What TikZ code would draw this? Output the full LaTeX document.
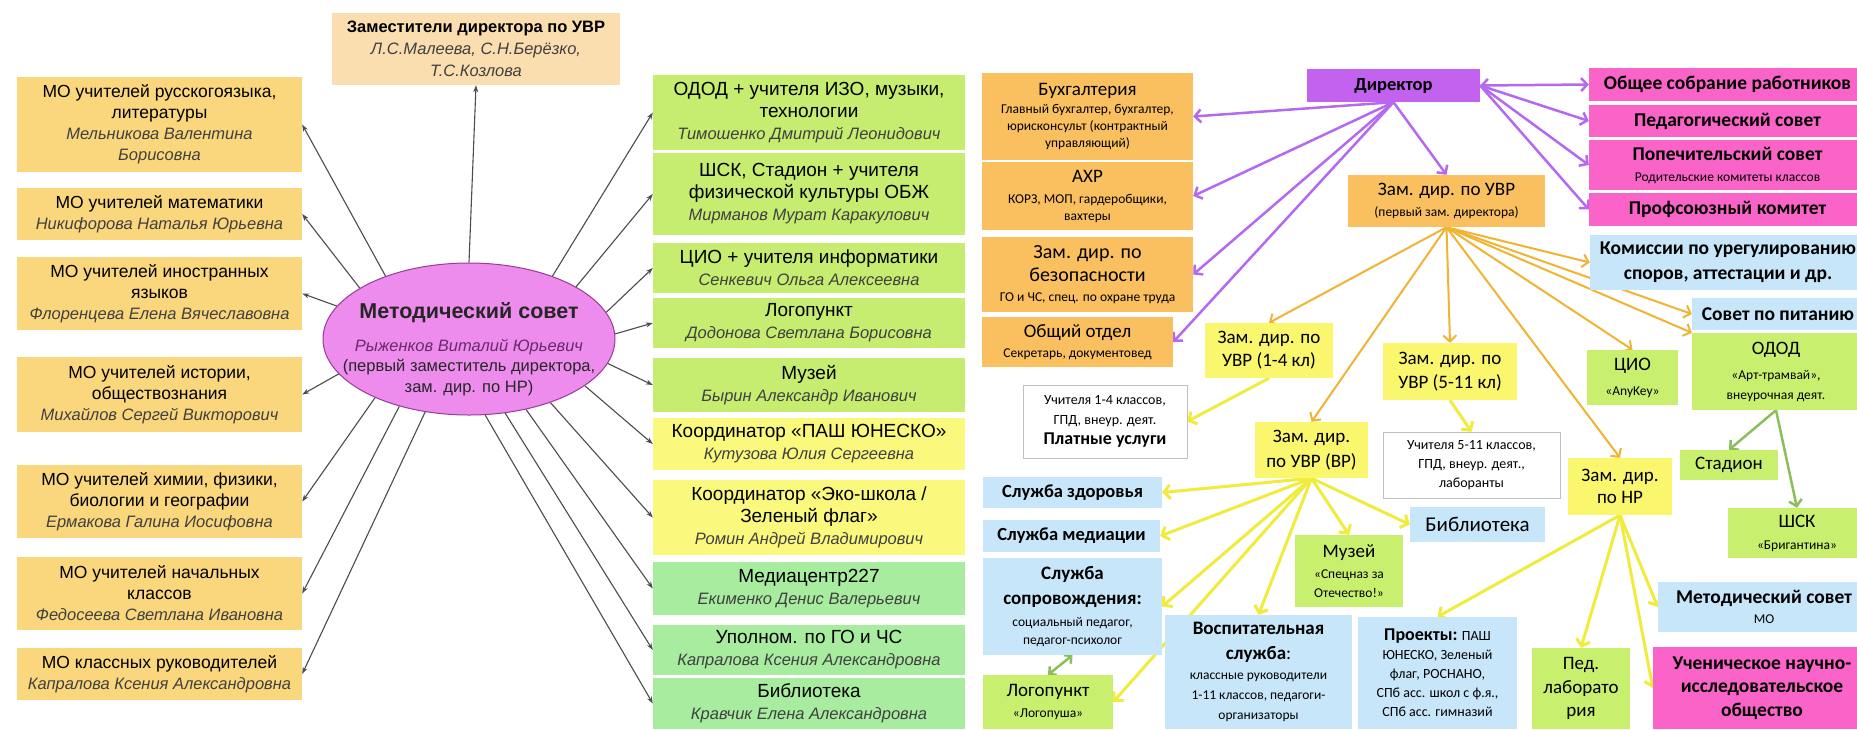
\documentclass[tikz,border=0pt]{standalone}
\usepackage{fontspec}
\setmainfont{Carlito}
\newfontfamily\arialf{Liberation Sans}
\usetikzlibrary{arrows.meta,shapes.geometric}
\definecolor{cLO}{RGB}{250,215,125}
\definecolor{cTop}{RGB}{250,222,176}
\definecolor{cEll}{RGB}{238,140,238}
\definecolor{cEllB}{RGB}{150,60,150}
\definecolor{cLime}{RGB}{198,236,112}
\definecolor{cYel}{RGB}{250,248,125}
\definecolor{cMint}{RGB}{168,236,160}
\definecolor{cRO}{RGB}{250,192,96}
\definecolor{cDir}{RGB}{196,98,240}
\definecolor{cPink}{RGB}{250,100,200}
\definecolor{cBlue}{RGB}{200,230,250}
\definecolor{cRY}{RGB}{250,246,110}
\definecolor{cRG}{RGB}{200,240,110}
\definecolor{lPur}{RGB}{180,105,240}
\definecolor{lOr}{RGB}{240,180,50}
\definecolor{lYe}{RGB}{240,235,60}
\definecolor{lGr}{RGB}{140,190,90}
\newcommand{\fs}[2]{\fontsize{#1}{#2}\selectfont}
\newcommand{\nm}{\fontsize{16.5}{19}\selectfont\itshape\color{black!75}}
\newcommand{\sm}{\fontsize{13.5}{17}\selectfont}
\newcommand{\obox}[7]{\node[#2, minimum width={(#5)-(#3)}, minimum height={(#6)-(#4)}] (#1) at ({((#3)+(#5))/2},{((#4)+(#6))/2}) {#7};}
\pgfdeclarelayer{back}
\pgfdeclarelayer{bg}
\pgfsetlayers{back,bg,main}
\begin{document}
\begin{tikzpicture}[x=1pt,y=-1pt,
  box/.style={inner sep=2pt, align=center, anchor=center, text=black},
  lbox/.style={box, fill=cLO, font=\arialf\fontsize{17.5}{21}\selectfont},
  gbox/.style={box, font=\arialf\fontsize{19}{22}\selectfont},
  rbox/.style={box, font=\fontsize{19}{23}\selectfont},
  larr/.style={draw=black!70, line width=1.1pt, -{Stealth[length=7pt,width=5pt]}},
  parr/.style={draw=lPur, line width=2.5pt, -{Straight Barb[length=6pt,width=13pt]}},
  oarr/.style={draw=lOr, line width=2pt, -{Straight Barb[length=6pt,width=13pt]}},
  yarr/.style={draw=lYe, line width=3pt, -{Straight Barb[length=6pt,width=14pt]}},
  garr/.style={draw=lGr, line width=2.5pt, -{Straight Barb[length=6pt,width=13pt]}}]
\useasboundingbox (0,0) rectangle (1857,729);
\clip (0,0) rectangle (1857,729);
\begin{pgfonlayer}{back}
\fill[white] (0,0) rectangle (1857,729);
\end{pgfonlayer}

% ---------- left diagram ----------
\obox{l1}{lbox}{17}{77}{302}{172}{МО учителей русскогоязыка,\\ литературы\\ \nm Мельникова Валентина\\ \nm Борисовна}
\obox{l2}{lbox}{17}{188}{302}{240}{МО учителей математики\\ \nm Никифорова Наталья Юрьевна}
\obox{l3}{lbox}{17}{257}{302}{330}{МО учителей иностранных\\ языков\\ \nm Флоренцева Елена Вячеславовна}
\obox{l4}{lbox}{17}{357}{302}{432}{МО учителей истории,\\ обществознания\\ \nm Михайлов Сергей Викторович}
\obox{l5}{lbox}{17}{465}{302}{538}{МО учителей химии, физики,\\ биологии и географии\\ \nm Ермакова Галина Иосифовна}
\obox{l6}{lbox}{17}{557}{302}{630}{МО учителей начальных\\ классов\\ \nm Федосеева Светлана Ивановна}
\obox{l7}{lbox}{17}{648}{302}{700}{МО классных руководителей\\ \nm Капралова Ксения Александровна}

\obox{zam}{gbox,fill=cTop}{332}{13}{620}{85}{\fontsize{16.5}{20}\selectfont\bfseries Заместители директора по УВР\\ \nm Л.С.Малеева, С.Н.Берёзко,\\ \nm Т.С.Козлова}

\node[ellipse, draw=cEllB, line width=1pt, fill=cEll, minimum width=292pt, minimum height=152pt, inner sep=0pt] (ms) at (469,339) {};
\node[align=center, inner sep=0pt, font=\arialf\fontsize{16.5}{20.5}\selectfont, text=black!85] (mst) at ([yshift=-10pt]ms.center)
 {{\fontsize{21.5}{24}\selectfont\bfseries Методический совет}\\[12pt] {\nm\color{cEllB!70!black} Рыженков Виталий Юрьевич}\\ (первый заместитель директора,\\ зам. дир. по НР)};

\obox{r1}{gbox,fill=cLime}{653}{75}{965}{150}{ОДОД + учителя ИЗО, музыки,\\ технологии\\ \nm Тимошенко Дмитрий Леонидович}
\obox{r2}{gbox,fill=cLime}{653}{153}{965}{235}{ШСК, Стадион + учителя\\ физической культуры ОБЖ\\ \nm Мирманов Мурат Каракулович}
\obox{r3}{gbox,fill=cLime}{653}{243}{965}{293}{ЦИО + учителя информатики\\ \nm Сенкевич Ольга Алексеевна}
\obox{r4}{gbox,fill=cLime}{653}{298}{965}{348}{Логопункт\\ \nm Додонова Светлана Борисовна}
\obox{r5}{gbox,fill=cLime}{653}{358}{965}{412}{Музей\\ \nm Бырин Александр Иванович}
\obox{r6}{gbox,fill=cYel}{653}{418}{965}{470}{Координатор «ПАШ ЮНЕСКО»\\ \nm Кутузова Юлия Сергеевна}
\obox{r7}{gbox,fill=cYel}{653}{480}{965}{555}{Координатор «Эко-школа /\\ Зеленый флаг»\\ \nm Ромин Андрей Владимирович}
\obox{r8}{gbox,fill=cMint}{653}{562}{965}{615}{Медиацентр227\\ \nm Екименко Денис Валерьевич}
\obox{r9}{gbox,fill=cMint}{653}{625}{965}{675}{Уполном. по ГО и ЧС\\ \nm Капралова Ксения Александровна}
\obox{r10}{gbox,fill=cMint}{653}{678}{965}{729}{Библиотека\\ \nm Кравчик Елена Александровна}

\begin{pgfonlayer}{bg}
\draw[larr] (ms.north) -- (zam.south);
\draw[larr] (ms.143) -- (l1.east);
\draw[larr] (ms.155) -- (l2.east);
\draw[larr] (ms.166) -- (l3.east);
\draw[larr] (ms.195) -- (l4.east);
\draw[larr] (ms.212) -- (l5.east);
\draw[larr] (ms.224) -- (l6.east);
\draw[larr] (ms.239) -- (l7.east);
\draw[larr] (ms.37) -- (r1.west);
\draw[larr] (ms.26) -- (r2.west);
\draw[larr] (ms.11) -- (r3.west);
\draw[larr] (ms.2) -- (r4.west);
\draw[larr] (ms.350) -- (r5.west);
\draw[larr] (ms.338) -- (r6.west);
\draw[larr] (ms.322) -- (r7.west);
\draw[larr] (ms.309) -- (r8.west);
\draw[larr] (ms.296) -- (r9.west);
\draw[larr] (ms.282) -- (r10.west);
\end{pgfonlayer}

% ---------- right diagram ----------
\obox{buh}{rbox,fill=cRO,font=\fs{19}{17}}{982}{73}{1193}{160}{Бухгалтерия\\[1pt] \sm Главный бухгалтер, бухгалтер,\\ \sm юрисконсульт (контрактный\\ \sm управляющий)}
\obox{ahr}{rbox,fill=cRO,font=\fs{19}{17}}{982}{162}{1193}{230}{АХР\\[4pt] \sm КОРЗ, МОП, гардеробщики,\\ \sm вахтеры}
\obox{bez}{rbox,fill=cRO,font=\fs{20}{23}}{982}{237}{1193}{312}{Зам. дир. по\\ безопасности\\[-3pt] \sm ГО и ЧС, спец. по охране труда}
\obox{obo}{rbox,fill=cRO,font=\fs{19}{20}}{982}{317}{1173}{367}{Общий отдел\\ \sm Секретарь, документовед}
\obox{u14}{rbox,fill=white,draw=black!25,font=\fs{14}{20}}{1023}{385}{1187}{458}{Учителя 1-4 классов,\\ ГПД, внеур. деят.\\ \fs{18}{20}\bfseries Платные услуги}
\obox{z14}{rbox,fill=cRY}{1205}{323}{1333}{378}{Зам. дир. по\\ УВР (1-4 кл)}
\obox{dir}{rbox,fill=cDir,font=\fs{18.5}{22}\bfseries}{1307}{69}{1480}{102}{Директор}
\obox{zuvr}{rbox,fill=cRO,font=\fs{19}{21}}{1348}{175}{1545}{227}{Зам. дир. по УВР\\ \sm (первый зам. директора)}
\obox{obsh}{rbox,fill=cPink,font=\fs{19.5}{23}\bfseries}{1589}{68}{1866}{101}{Общее собрание работников}
\obox{ped}{rbox,fill=cPink,font=\fs{19.5}{23}\bfseries}{1589}{105}{1866}{137}{Педагогический совет}
\obox{pop}{rbox,fill=cPink,font=\fs{19.5}{21}\bfseries}{1589}{140}{1866}{190}{Попечительский совет\\ \sm\mdseries Родительские комитеты классов}
\obox{prof}{rbox,fill=cPink,font=\fs{19.5}{23}\bfseries}{1589}{193}{1866}{226}{Профсоюзный комитет}
\obox{kom}{rbox,fill=cBlue,font=\fs{19.5}{25}\bfseries}{1590}{235}{1866}{290}{Комиссии по урегулированию\\ споров, аттестации и др.}
\obox{pit}{rbox,fill=cBlue,font=\fs{19.5}{23}\bfseries}{1692}{298}{1864}{330}{Совет по питанию}
\obox{odod}{rbox,fill=cRG,font=\fs{19}{20}}{1692}{333}{1860}{410}{ОДОД\\[5pt] \sm «Арт-трамвай»,\\ \sm внеурочная деят.}
\obox{cio}{rbox,fill=cRG,font=\fs{19}{25}}{1587}{350}{1678}{405}{ЦИО\\ \sm «AnyKey»}
\obox{z511}{rbox,fill=cRY,font=\fs{19}{24}}{1383}{343}{1517}{400}{Зам. дир. по\\ УВР (5-11 кл)}
\obox{stad}{rbox,fill=cRG}{1680}{450}{1778}{480}{Стадион}
\obox{shsk}{rbox,fill=cRG,font=\fs{19}{22}}{1728}{508}{1866}{558}{ШСК\\ \sm «Бригантина»}
\obox{znr}{rbox,fill=cRY,font=\fs{19}{22}}{1568}{458}{1672}{515}{Зам. дир.\\ по НР}
\obox{u511}{rbox,fill=white,draw=black!25,font=\fs{14}{19}}{1383}{432}{1560}{498}{Учителя 5-11 классов,\\ ГПД, внеур. деят.,\\ лаборанты}
\obox{bib}{rbox,fill=cBlue,font=\fs{21}{25}}{1410}{507}{1545}{542}{Библиотека}
\obox{msov}{rbox,fill=cBlue,font=\fs{19.5}{20}}{1658}{582}{1870}{632}{\bfseries Методический совет\\ \sm МО}
\obox{uch}{rbox,fill=cPink,font=\fs{19.5}{23.5}\bfseries}{1653}{647}{1871}{729}{Ученическое научно-\\ исследовательское\\ общество}
\obox{pedlab}{rbox,fill=cRG,font=\fs{19}{23.5}}{1532}{648}{1630}{729}{Пед.\\ лаборато\\ рия}
\obox{zvr}{rbox,fill=cRY,font=\fs{19}{25}}{1255}{422}{1368}{478}{Зам. дир.\\ по УВР (ВР)}
\obox{zdor}{rbox,fill=cBlue,font=\fs{18.5}{22}\bfseries}{983}{477}{1162}{508}{Служба здоровья}
\obox{med}{rbox,fill=cBlue,font=\fs{18.5}{22}\bfseries}{983}{520}{1160}{552}{Служба медиации}
\obox{sopr}{rbox,fill=cBlue,font=\fs{19}{18}}{983}{558}{1162}{655}{\bfseries Служба\\[7pt] \bfseries сопровождения:\\[4pt] \sm социальный педагог,\\ \sm педагог-психолог}
\obox{logo}{rbox,fill=cRG,font=\fs{19}{21}}{983}{675}{1113}{729}{Логопункт\\ \sm «Логопуша»}
\obox{vosp}{rbox,fill=cBlue,font=\fs{19}{20}}{1165}{615}{1352}{729}{\bfseries Воспитательная\\[5pt] \textbf{служба}:\\ \sm классные руководители\\ \sm 1-11 классов, педагоги-\\ \sm организаторы}
\obox{muz}{rbox,fill=cRG,font=\fs{19}{19}}{1295}{535}{1403}{607}{Музей\\[2pt] \sm «Спецназ за\\ \sm Отечество!»}
\obox{proj}{rbox,fill=cBlue,font=\fs{14}{19}}{1358}{617}{1517}{729}{\textbf{\fs{18}{19}Проекты:} ПАШ\\ ЮНЕСКО, Зеленый\\ флаг, РОСНАНО,\\ СПб асс. школ с ф.я.,\\ СПб асс. гимназий}

\begin{pgfonlayer}{bg}
\draw[parr] (dir.south) -- (buh.east);
\draw[parr] (dir.south) -- (ahr.east);
\draw[parr] (dir.south) -- (bez.east);
\draw[parr] (dir.south) -- (obo.east);
\draw[parr] (dir.south) -- (zuvr.north);
\draw[parr, {Straight Barb[length=6pt,width=13pt]}-{Straight Barb[length=6pt,width=13pt]}] (dir.east) -- (obsh.west);
\draw[parr] (dir.east) -- (ped.west);
\draw[parr] (dir.east) -- (pop.west);
\draw[parr] (dir.east) -- (prof.west);

\draw[oarr] (zuvr.south) -- (z14.north);
\draw[oarr] (zuvr.south) -- (zvr.north);
\draw[oarr] (zuvr.south) -- (z511.north);
\draw[oarr] (zuvr.south) -- (znr.north);
\draw[oarr] (zuvr.south) -- (cio.north);
\draw[oarr] (zuvr.south) -- (odod.north west);
\draw[oarr] (zuvr.south) -- (pit.west);
\draw[oarr] (zuvr.south) -- (kom.west);

\draw[yarr] (z14.south) -- (u14.east);
\draw[yarr] (z511.south) -- (u511.north);
\draw[yarr] (zvr.south) -- (zdor.east);
\draw[yarr] (zvr.south) -- (med.east);
\draw[yarr] (zvr.south) -- (sopr.east);
\draw[yarr] (zvr.south) -- (logo.east);
\draw[yarr] (zvr.south) -- (vosp.north);
\draw[yarr] (zvr.south) -- (muz.north);
\draw[yarr] (zvr.south) -- (bib.west);
\draw[yarr] (znr.south) -- (proj.north);
\draw[yarr] (znr.south) -- (pedlab.north);
\draw[yarr] (znr.south) -- (msov.west);
\draw[yarr] (znr.south) -- (uch.west);

\draw[garr] (odod.south) -- (stad.north);
\draw[garr] (odod.south) -- (shsk.north);
\draw[garr, {Straight Barb[length=5pt,width=11pt]}-{Straight Barb[length=5pt,width=11pt]}] (logo.north) -- (sopr.south);
\end{pgfonlayer}
\end{tikzpicture}
\end{document}
